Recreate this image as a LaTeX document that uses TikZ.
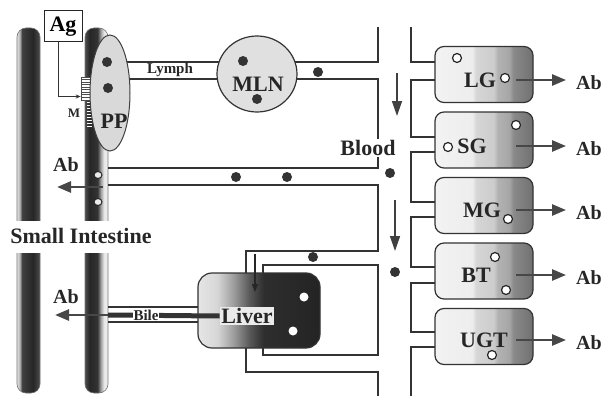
\documentclass[tikz,border=0pt]{standalone}
\usepackage{fontspec}
\setmainfont{Liberation Serif}
\usetikzlibrary{arrows.meta,shapes.geometric}

\pgfdeclarehorizontalshading{glandshade}{100bp}{color(0bp)=(black!5); color(25bp)=(black!5); color(44bp)=(black!7); color(46bp)=(black!16); color(55bp)=(black!20); color(57bp)=(black!30); color(63bp)=(black!35); color(65bp)=(black!46); color(75bp)=(black!56); color(100bp)=(black!56)}
\pgfdeclarehorizontalshading{livershade}{100bp}{color(0bp)=(black!10); color(25bp)=(black!10); color(33bp)=(black!16); color(40bp)=(black!40); color(46bp)=(black!65); color(52bp)=(black!82); color(75bp)=(black!86); color(100bp)=(black!86)}
\pgfdeclarehorizontalshading{gutleftshade}{100bp}{color(0bp)=(black!10); color(25bp)=(black!10); color(31bp)=(black!30); color(36bp)=(black!75); color(60bp)=(black!85); color(75bp)=(black!70); color(100bp)=(black!70)}
\pgfdeclarehorizontalshading{gutrightshade}{100bp}{color(0bp)=(black!70); color(25bp)=(black!70); color(35bp)=(black!85); color(52bp)=(black!80); color(60bp)=(black!35); color(66bp)=(black!10); color(75bp)=(black!5); color(100bp)=(black!5)}

\begin{document}
\begin{tikzpicture}[x=1pt, y=-1pt,
    vessel/.style={draw=black!80, line width=1.6pt},
    tube/.style={draw=black!55, line width=0.6pt, rounded corners=9pt},
    gland/.style={shade, shading=glandshade, draw=black!80, line width=1.2pt, rounded corners=9pt, minimum width=98pt, minimum height=56pt, inner sep=0pt},
    organ/.style={font=\fontsize{22}{24}\selectfont\bfseries, text=black!85, inner sep=0pt},
    ablabel/.style={font=\fontsize{20}{22}\selectfont\bfseries, text=black!85, inner sep=1pt},
    small/.style={font=\fontsize{15}{16}\selectfont\bfseries, text=black!85, inner sep=0.5pt},
    abarrow/.style={draw=black!72, line width=2.6pt, -{Triangle[length=14pt, width=11pt]}},
    flow/.style={draw=black!75, line width=1.5pt, -{Triangle[length=15pt, width=10pt]}},
    dot/.style={circle, fill=black!80, inner sep=0pt, minimum size=10pt},
    cell/.style={circle, draw=black!85, line width=1.2pt, fill=white, inner sep=0pt, minimum size=9pt},
  ]
  \useasboundingbox (0,0) rectangle (608,396);

  % Small intestine walls
  \begin{scope}
    \clip (0,0) rectangle (150,220);
    \shade[tube, shading=gutleftshade] (17,28) rectangle (40,260);
    \shade[tube, shading=gutrightshade] (85,28) rectangle (108,260);
  \end{scope}
  \begin{scope}
    \clip (0,253) rectangle (150,396);
    \shade[tube, shading=gutleftshade] (17,200) rectangle (40,393);
    \shade[tube, shading=gutrightshade] (85,200) rectangle (108,393);
  \end{scope}
  \node[organ] (si) at (81,236) {Small Intestine};

  % Lymph and blood vessels
  \draw[vessel] (115,62) -| (378,27);
  \draw[vessel] (115,79) -| (378,168) -- (108,168);
  \draw[vessel] (108,185) -| (378,251) -- (246,251) -- (246,280);
  \draw[vessel] (263,280) |- (378,265) -- (378,355) -- (263,355) -- (263,340);
  \draw[vessel] (246,340) |- (378,372) -- (378,396);
  \draw[vessel] (108,307) -- (198,307);
  \draw[vessel] (108,322) -- (198,322);

  % Right wall of the blood stream
  \draw[vessel] (411,27) |- (436,62);
  \draw[vessel] (436,80) -| (411,137) -- (436,137);
  \draw[vessel] (436,152) -| (411,202) -- (436,202);
  \draw[vessel] (436,217) -| (411,267) -- (436,267);
  \draw[vessel] (436,283) -| (411,332) -- (436,332);
  \draw[vessel] (436,347) -| (411,396);

  % M cell
  \node[draw=black!70, line width=0.6pt, fill=white, minimum width=11pt, minimum height=23pt, inner sep=0pt] (mcell) at (86.5,88.5) {};
  \foreach \yy in {79.5,82,...,99} \draw[black!70, line width=0.5pt] (81,\yy) -- (92,\yy);
  \foreach \yy in {102,105,...,126} \draw[white, line width=0.8pt] (87,\yy) -- (92,\yy);
  \node[small, font=\fontsize{13}{14}\selectfont\bfseries] (mlab) at (74,113) {M};

  % Peyer's patch
  \node[ellipse, draw=black!75, line width=1pt, fill=black!15, minimum width=40pt, minimum height=116pt] (pp) at (110,93) {};
  \node[dot] (pp-d1) at (107,62) {};
  \node[dot] (pp-d2) at (108,88) {};
  \node[organ] (pp-t) at (114,121) {PP};

  % Antigen
  \node[draw=black!85, line width=1pt, fill=white, minimum width=38pt, minimum height=31pt, inner sep=0pt, font=\fontsize{22}{24}\selectfont\bfseries] (ag) at (63,26.5) {Ag};
  \draw[black!80, line width=1pt, -{Stealth[length=5pt, width=4pt]}] ([xshift=-5pt]ag.south) |- ([yshift=-8pt]mcell.west);

  % Mesenteric lymph node
  \node[small] (lymph) at (170,70) {Lymph};
  \node[ellipse, draw=black!80, line width=1.2pt, fill=black!12, minimum width=80pt, minimum height=76pt] (mln) at (257,74) {};
  \node[dot] (mln-d1) at (243,61) {};
  \node[dot] (mln-d2) at (257,99) {};
  \node[organ] (mln-t) at (258,84) {MLN};
  \node[dot] (ly-d) at (318,72) {};

  % Gut to blood
  \node[dot] (gut-d1) at (236,177) {};
  \node[dot] (gut-d2) at (287,177) {};
  \node[ellipse, draw=black!85, line width=1pt, fill=black!8, minimum width=8pt, minimum height=7pt, inner sep=0pt] (c1) at (98,175) {};
  \node[ellipse, draw=black!85, line width=1pt, fill=black!8, minimum width=8pt, minimum height=7pt, inner sep=0pt] (c2) at (98,202) {};
  \node[ablabel] (ab-gut) at (66,165) {Ab};
  \coordinate (ab-gut-tip) at (57,187);
  \draw[abarrow] (c1.east |- ab-gut-tip) -- (ab-gut-tip);

  % Blood stream
  \node[organ, fill=white, inner sep=1pt] (blood) at (368,148) {Blood};
  \node[dot] (bl-d1) at (390,173) {};
  \node[dot] (bl-d2) at (395,272) {};
  \coordinate (fl1a) at (397,73);
  \coordinate (fl1b) at (397,116);
  \coordinate (fl2a) at (395,200);
  \coordinate (fl2b) at (395,251);
  \draw[flow] (fl1a) -- (fl1b);
  \draw[flow] (fl2a) -- (fl2b);

  % Liver
  \node[shade, shading=livershade, draw=black!80, line width=1.2pt, rounded corners=14pt, minimum width=122pt, minimum height=75pt, inner sep=0pt] (liver) at (259,310.5) {};
  \node[dot] (pv-d) at (313,257) {};
  \coordinate (pv-in) at (255,254);
  \draw[black!85, line width=1.2pt, -{Triangle[length=8pt, width=6pt]}] (pv-in) -- (255,292);
  \node[circle, fill=white, inner sep=0pt, minimum size=9pt] (lv-d1) at (304,297) {};
  \node[circle, fill=white, inner sep=0pt, minimum size=9pt] (lv-d2) at (293,331) {};
  \node[organ, fill=black!8, inner sep=1.5pt] (liver-t) at (247,316) {Liver};
  \coordinate (bile-in) at (108,315);
  \draw[black!80, line width=5pt] (liver-t.west) -- (bile-in);
  \node[small, fill=white] (bile) at (146,315) {Bile};
  \node[ablabel] (ab-bile) at (66,297) {Ab};
  \coordinate (ab-bile-tip) at (55,315);
  \draw[abarrow] (bile-in) -- (ab-bile-tip);

  % Glands
  \foreach \n/\l/\cy/\lx/\ly in {lg/LG/74.5/480/80, sg/SG/140/472/146, mg/MG/205.5/482/210, bt/BT/271/476/275, ugt/UGT/336.5/484/340}{
    \node[gland] (\n) at (484,\cy) {};
    \node[organ] (\n-t) at (\lx,\ly) {\l};
    \coordinate (\n-out) at (516,\ly);
    \node[ablabel] (\n-ab) at (589,\ly+2.5) {Ab};
    \draw[abarrow, shorten >=9pt] (\n-out) -- (\n-ab.west |- \n-out);
  }
  % Plasma cells
  \node[cell] (lg-c1) at (457,58) {};
  \node[cell] (lg-c2) at (505,78) {};
  \node[cell] (sg-c1) at (448,147) {};
  \node[cell] (sg-c2) at (516,125) {};
  \node[cell] (mg-c1) at (508,219) {};
  \node[cell] (bt-c1) at (495,257) {};
  \node[cell] (bt-c2) at (506,290) {};
  \node[cell] (ugt-c1) at (492,355) {};
\end{tikzpicture}
\end{document}
